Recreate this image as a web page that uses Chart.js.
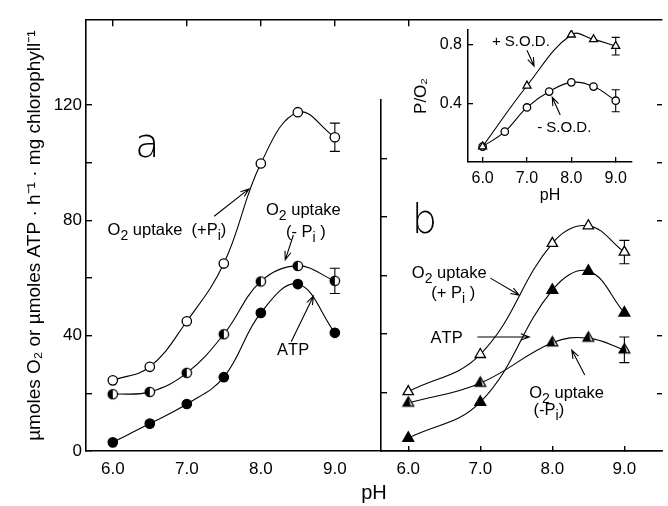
<!DOCTYPE html>
<html>
<head>
<meta charset="utf-8">
<script src="https://cdn.jsdelivr.net/npm/chart.js@4.4.1/dist/chart.umd.min.js"></script>
<style>
  html, body { margin: 0; padding: 0; background: #fff; }
  #wrap { position: relative; width: 668px; height: 506px; overflow: hidden; }
  #wrap > div { position: absolute; }
</style>
</head>
<body>
<div id="wrap">
  <div style="left:0;top:0;width:668px;height:506px"><canvas id="chartA"></canvas></div>
  <div style="left:361px;top:0;width:307px;height:506px"><canvas id="chartB"></canvas></div>
  <div style="left:400px;top:0;width:250px;height:210px"><canvas id="chartC"></canvas></div>
</div>
<script>
// panel a
var phA = [6.0, 6.5, 7.0, 7.5, 8.0, 8.5, 9.0];
var o2PlusPiA = [24.5, 29.2, 45, 65, 99.7, 117.5, 108.8];
var o2MinusPiA = [19.7, 20.5, 27.1, 40.5, 58.8, 64.2, 59];
var atpA = [3, 9.5, 16.3, 25.6, 47.9, 57.9, 41];
var errPlusPiA = [0, 0, 0, 0, 0, 0, 4.9];
var errMinusPiA = [0, 0, 0, 0, 0, 0, 4.4];

// panel b
var phB = [6.0, 7.0, 8.0, 8.5, 9.0];
var o2PlusPiB = [20.3, 33, 71, 77, 68];
var atpB = [4.4, 16.7, 55, 61.5, 47.2];
var o2MinusPiB = [16.4, 23.2, 37, 38.6, 34.6];
var errPlusPiB = [0, 0, 0, 0, 4];
var errMinusPiB = [0, 0, 0, 0, 4.4];

// inset P/O2
var phPlusSod = [6.0, 7.0, 8.0, 8.5, 9.0];
var poPlusSod = [0.105, 0.52, 0.868, 0.836, 0.79];
var errPlusSod = [0, 0, 0, 0, 0.06];
var phMinusSod = [6.0, 6.5, 7.0, 7.5, 8.0, 8.5, 9.0];
var poMinusSod = [0.105, 0.207, 0.372, 0.48, 0.543, 0.514, 0.418];
var errMinusSod = [0, 0, 0, 0, 0, 0, 0.075];

// ticks
var xTicks = [6, 7, 8, 9];
var topTicksA = [6, 7, 8, 9, 10];
var yTicksA = [0, 20, 40, 60, 80, 100, 120];
var yLabelsA = [0, 40, 80, 120];
var yRightTicks = [20, 40, 80, 100, 120];
var yTicksB = [20, 40, 60, 80, 100];
var yTicksInset = [0.4, 0.8];

var FONT = "'Liberation Sans', Arial, sans-serif";
var LETTER_FONT = "'DejaVu Sans', 'Liberation Sans', sans-serif";
Chart.defaults.font.family = FONT;
Chart.defaults.color = '#000';

function pts(xs, ys) { return xs.map(function (x, i) { return { x: x, y: ys[i] }; }); }

function halfCircle(r) {
  var s = Math.ceil(2 * r + 4), m = s / 2;
  var c = document.createElement('canvas'); c.width = c.height = s;
  var g = c.getContext('2d');
  g.beginPath(); g.arc(m, m, r, 0, 2 * Math.PI); g.fillStyle = '#fff'; g.fill();
  g.beginPath(); g.arc(m, m, r, Math.PI / 2, 3 * Math.PI / 2); g.closePath(); g.fillStyle = '#000'; g.fill();
  g.beginPath(); g.arc(m, m, r, 0, 2 * Math.PI); g.lineWidth = 1.3; g.strokeStyle = '#000'; g.stroke();
  return c;
}
function halfTriangle(r) {
  var s = Math.ceil(2 * r + 4), m = s / 2;
  var c = document.createElement('canvas'); c.width = c.height = s;
  var g = c.getContext('2d');
  var top = [m, m - r], bl = [m - 0.866 * r, m + 0.5 * r], br = [m + 0.866 * r, m + 0.5 * r];
  g.beginPath(); g.moveTo(top[0], top[1]); g.lineTo(bl[0], bl[1]); g.lineTo(br[0], br[1]); g.closePath();
  g.fillStyle = '#fff'; g.fill();
  g.beginPath(); g.moveTo(top[0], top[1]); g.lineTo(bl[0], bl[1]); g.lineTo(m + 0.4 * r, bl[1]); g.closePath();
  g.fillStyle = '#000'; g.fill();
  g.beginPath(); g.moveTo(top[0], top[1]); g.lineTo(bl[0], bl[1]); g.lineTo(br[0], br[1]); g.closePath();
  g.lineWidth = 1.3; g.strokeStyle = '#000'; g.stroke();
  return c;
}

function series(xs, ys, style, fill, r, errs) {
  return {
    data: pts(xs, ys), errors: errs,
    borderColor: '#000', borderWidth: 1.1, tension: 0.4, fill: false,
    pointStyle: style, pointRadius: r, pointBackgroundColor: fill,
    pointBorderColor: '#000', pointBorderWidth: 1.3
  };
}

// draws "O_2" style text: "_" makes next char a subscript
function richText(ctx, str, x, y, size, family, weight) {
  var cx = x, i = 0;
  var w = weight ? weight + ' ' : '';
  while (i < str.length) {
    var ch = str[i];
    if (ch === '_' && i + 1 < str.length) {
      ctx.font = w + Math.round(size * 0.85) + 'px ' + family;
      ctx.fillText(str[i + 1], cx, y + size * 0.3);
      cx += ctx.measureText(str[i + 1]).width;
      i += 2;
    } else {
      ctx.font = w + size + 'px ' + family;
      ctx.fillText(ch, cx, y);
      cx += ctx.measureText(ch).width;
      i += 1;
    }
  }
}

function notesPlugin(texts, arrows, capW) {
  return {
    id: 'notes',
    beforeDatasetsDraw: function (chart) {
      var ctx = chart.ctx, ys = chart.scales.y;
      ctx.save();
      ctx.strokeStyle = '#000'; ctx.lineWidth = 1.1;
      chart.data.datasets.forEach(function (ds, di) {
        if (!ds.errors) return;
        var meta = chart.getDatasetMeta(di);
        ds.errors.forEach(function (e, j) {
          if (!e) return;
          var px = meta.data[j].x, v = ds.data[j].y;
          var y1 = ys.getPixelForValue(v + e), y2 = ys.getPixelForValue(v - e);
          ctx.beginPath();
          ctx.moveTo(px, y1); ctx.lineTo(px, y2);
          ctx.moveTo(px - capW, y1); ctx.lineTo(px + capW, y1);
          ctx.moveTo(px - capW, y2); ctx.lineTo(px + capW, y2);
          ctx.stroke();
        });
      });
      ctx.restore();
    },
    afterDatasetsDraw: function (chart) {
      var ctx = chart.ctx, xs = chart.scales.x, ys = chart.scales.y;
      ctx.save();
      ctx.fillStyle = '#000'; ctx.strokeStyle = '#000'; ctx.lineWidth = 1.1;
      ctx.textBaseline = 'alphabetic'; ctx.textAlign = 'left';
      texts.forEach(function (t) {
        var px = xs.getPixelForValue(t[0]), py = ys.getPixelForValue(t[1]);
        if (t[4]) richText(ctx, t[2], px, py + t[3] * 0.28, t[3], LETTER_FONT, '200');
        else richText(ctx, t[2], px, py + t[3] * 0.36, t[3], FONT);
      });
      arrows.forEach(function (a) {
        var x1 = xs.getPixelForValue(a[0]), y1 = ys.getPixelForValue(a[1]);
        var x2 = xs.getPixelForValue(a[2]), y2 = ys.getPixelForValue(a[3]);
        var ang = Math.atan2(y2 - y1, x2 - x1), h = 9, w = 0.35;
        ctx.beginPath();
        ctx.moveTo(x1, y1); ctx.lineTo(x2, y2);
        ctx.moveTo(x2 - h * Math.cos(ang - w), y2 - h * Math.sin(ang - w));
        ctx.lineTo(x2, y2);
        ctx.lineTo(x2 - h * Math.cos(ang + w), y2 - h * Math.sin(ang + w));
        ctx.stroke();
      });
      ctx.restore();
    }
  };
}

function fixedTicks(list) { return function (s) { s.ticks = list.map(function (v) { return { value: v }; }); }; }
function one(v) { return v.toFixed(1); }

var base = {
  responsive: true, maintainAspectRatio: false, animation: false,
  plugins: { legend: { display: false }, tooltip: { enabled: false } }
};
function opts(extra) { return Object.assign({}, base, extra); }

// ---------- panel a (also draws the outer frame) ----------
var xMinA = 5.638, xMaxA = 13.42, yMaxA = 149.4;
new Chart(document.getElementById('chartA'), {
  type: 'line',
  data: { datasets: [
    series(phA, o2PlusPiA, 'circle', '#fff', 4.7, errPlusPiA),
    series(phA, o2MinusPiA, halfCircle(4.7), '#fff', 4.7, errMinusPiA),
    series(phA, atpA, 'circle', '#000', 4.7, null)
  ] },
  options: opts({
    layout: { padding: { top: 14, right: 0, left: 0, bottom: 0 } },
    scales: {
      x: {
        type: 'linear', position: 'bottom', min: xMinA, max: xMaxA,
        afterBuildTicks: fixedTicks(xTicks), afterFit: function (s) { s.height = 55; },
        grid: { drawOnChartArea: false, drawTicks: false },
        border: { color: '#000', width: 1.6 },
        ticks: { font: { size: 17 }, padding: 8, autoSkip: false, maxRotation: 0, callback: one },
        title: { display: true, text: 'pH', font: { size: 20 }, padding: { top: 1, bottom: 1 } }
      },
      xTop: {
        type: 'linear', position: 'top', min: xMinA, max: xMaxA,
        afterBuildTicks: fixedTicks(topTicksA), afterFit: function (s) { s.height = 0; },
        grid: { drawOnChartArea: false, tickLength: -6, color: '#000', lineWidth: 1.4 },
        border: { color: '#000', width: 1.6 },
        ticks: { display: false }
      },
      y: {
        type: 'linear', position: 'left', min: 0, max: yMaxA,
        afterBuildTicks: fixedTicks(yTicksA), afterFit: function (s) { s.width = 86; },
        grid: { drawOnChartArea: false, tickLength: -6, color: '#000', lineWidth: 1.4 },
        border: { color: '#000', width: 1.6 },
        ticks: { font: { size: 17 }, padding: 10, callback: function (v) { return yLabelsA.indexOf(v) >= 0 ? String(v) : ''; } },
        title: { display: true, text: 'µmoles O₂ or µmoles ATP · h⁻¹ · mg chlorophyll⁻¹', font: { size: 19 }, padding: { top: 23, bottom: 23 } }
      },
      yRight: {
        type: 'linear', position: 'right', min: 0, max: yMaxA,
        afterBuildTicks: fixedTicks(yRightTicks), afterFit: function (s) { s.width = 1; },
        grid: { drawOnChartArea: false, tickLength: -5, color: '#000', lineWidth: 1.4 },
        border: { display: false },
        ticks: { display: false }
      }
    }
  }),
  plugins: [notesPlugin(
    [
      [6.3, 106, 'a', 40, true],
      [5.93, 76.9, 'O_2 uptake  (+P_i)', 16.5],
      [8.07, 83.8, 'O_2 uptake', 16.5],
      [8.34, 76.2, '(- P_i )', 16.5],
      [8.22, 35.2, 'ATP', 16.5]
    ],
    [
      [7.37, 81.4, 7.84, 90.9],
      [8.44, 74.9, 8.33, 66.3],
      [8.41, 37.9, 8.71, 53.7]
    ], 5)]
});

// ---------- panel b ----------
new Chart(document.getElementById('chartB'), {
  type: 'line',
  data: { datasets: [
    series(phB, o2PlusPiB, 'triangle', '#fff', 6, errPlusPiB),
    series(phB, atpB, 'triangle', '#000', 6.3, null),
    series(phB, o2MinusPiB, halfTriangle(6.2), '#fff', 6, errMinusPiB)
  ] },
  options: opts({
    layout: { padding: { top: 100, right: 0, left: 0, bottom: 0 } },
    scales: {
      x: {
        type: 'linear', min: 5.6216, max: 9.5,
        afterBuildTicks: fixedTicks(xTicks), afterFit: function (s) { s.height = 55; },
        grid: { drawOnChartArea: false, tickLength: -5, color: '#000', lineWidth: 1.4 },
        border: { color: '#000', width: 1.6 },
        ticks: { font: { size: 17 }, padding: 13, autoSkip: false, maxRotation: 0, callback: one }
      },
      y: {
        type: 'linear', min: 0, max: 120,
        afterBuildTicks: fixedTicks(yTicksB), afterFit: function (s) { s.width = 20; },
        grid: { drawOnChartArea: false, tickLength: -6, color: '#000', lineWidth: 1.4 },
        border: { color: '#000', width: 1.6 },
        ticks: { display: false }
      }
    }
  }),
  plugins: [notesPlugin(
    [
      [6.05, 78.3, 'b', 40, true],
      [6.05, 61.2, 'O_2 uptake', 16.5],
      [6.32, 54.4, '(+ P_i )', 16.5],
      [6.31, 39, 'ATP', 16.5],
      [7.68, 20.2, 'O_2 uptake', 16.5],
      [7.74, 14.4, '(-P_i)', 16.5]
    ],
    [
      [7.14, 59.1, 7.54, 53.3],
      [6.96, 39, 7.68, 39],
      [8.45, 26, 8.27, 34.5]
    ], 5)]
});

// ---------- inset ----------
new Chart(document.getElementById('chartC'), {
  type: 'line',
  data: { datasets: [
    series(phPlusSod, poPlusSod, 'triangle', '#fff', 4.6, errPlusSod),
    series(phMinusSod, poMinusSod, 'circle', '#fff', 3.7, errMinusSod)
  ] },
  options: opts({
    layout: { padding: { top: 30, right: 18, left: 0, bottom: 0 } },
    scales: {
      x: {
        type: 'linear', min: 5.671, max: 9.367,
        afterBuildTicks: fixedTicks(xTicks), afterFit: function (s) { s.height = 48; },
        grid: { drawOnChartArea: false, tickLength: -5, color: '#000', lineWidth: 1.3 },
        border: { color: '#000', width: 1.5 },
        ticks: { font: { size: 16 }, padding: 12, autoSkip: false, maxRotation: 0, callback: one },
        title: { display: true, text: 'pH', font: { size: 16 }, padding: { top: 5, bottom: 5 } }
      },
      y: {
        type: 'linear', min: 0, max: 0.9,
        afterBuildTicks: fixedTicks(yTicksInset), afterFit: function (s) { s.width = 68; },
        grid: { drawOnChartArea: false, tickLength: -5, color: '#000', lineWidth: 1.3 },
        border: { color: '#000', width: 1.5 },
        ticks: { font: { size: 16 }, padding: 11, callback: one },
        title: { display: true, text: 'P/O₂', font: { size: 17 }, padding: { top: 11, bottom: 11 } }
      }
    }
  }),
  plugins: [notesPlugin(
    [
      [6.21, 0.83, '+ S.O.D.', 15],
      [7.23, 0.238, '- S.O.D.', 15]
    ],
    [
      [7.0, 0.762, 7.16, 0.654],
      [7.75, 0.32, 7.57, 0.442]
    ], 4)]
});
</script>
</body>
</html>
